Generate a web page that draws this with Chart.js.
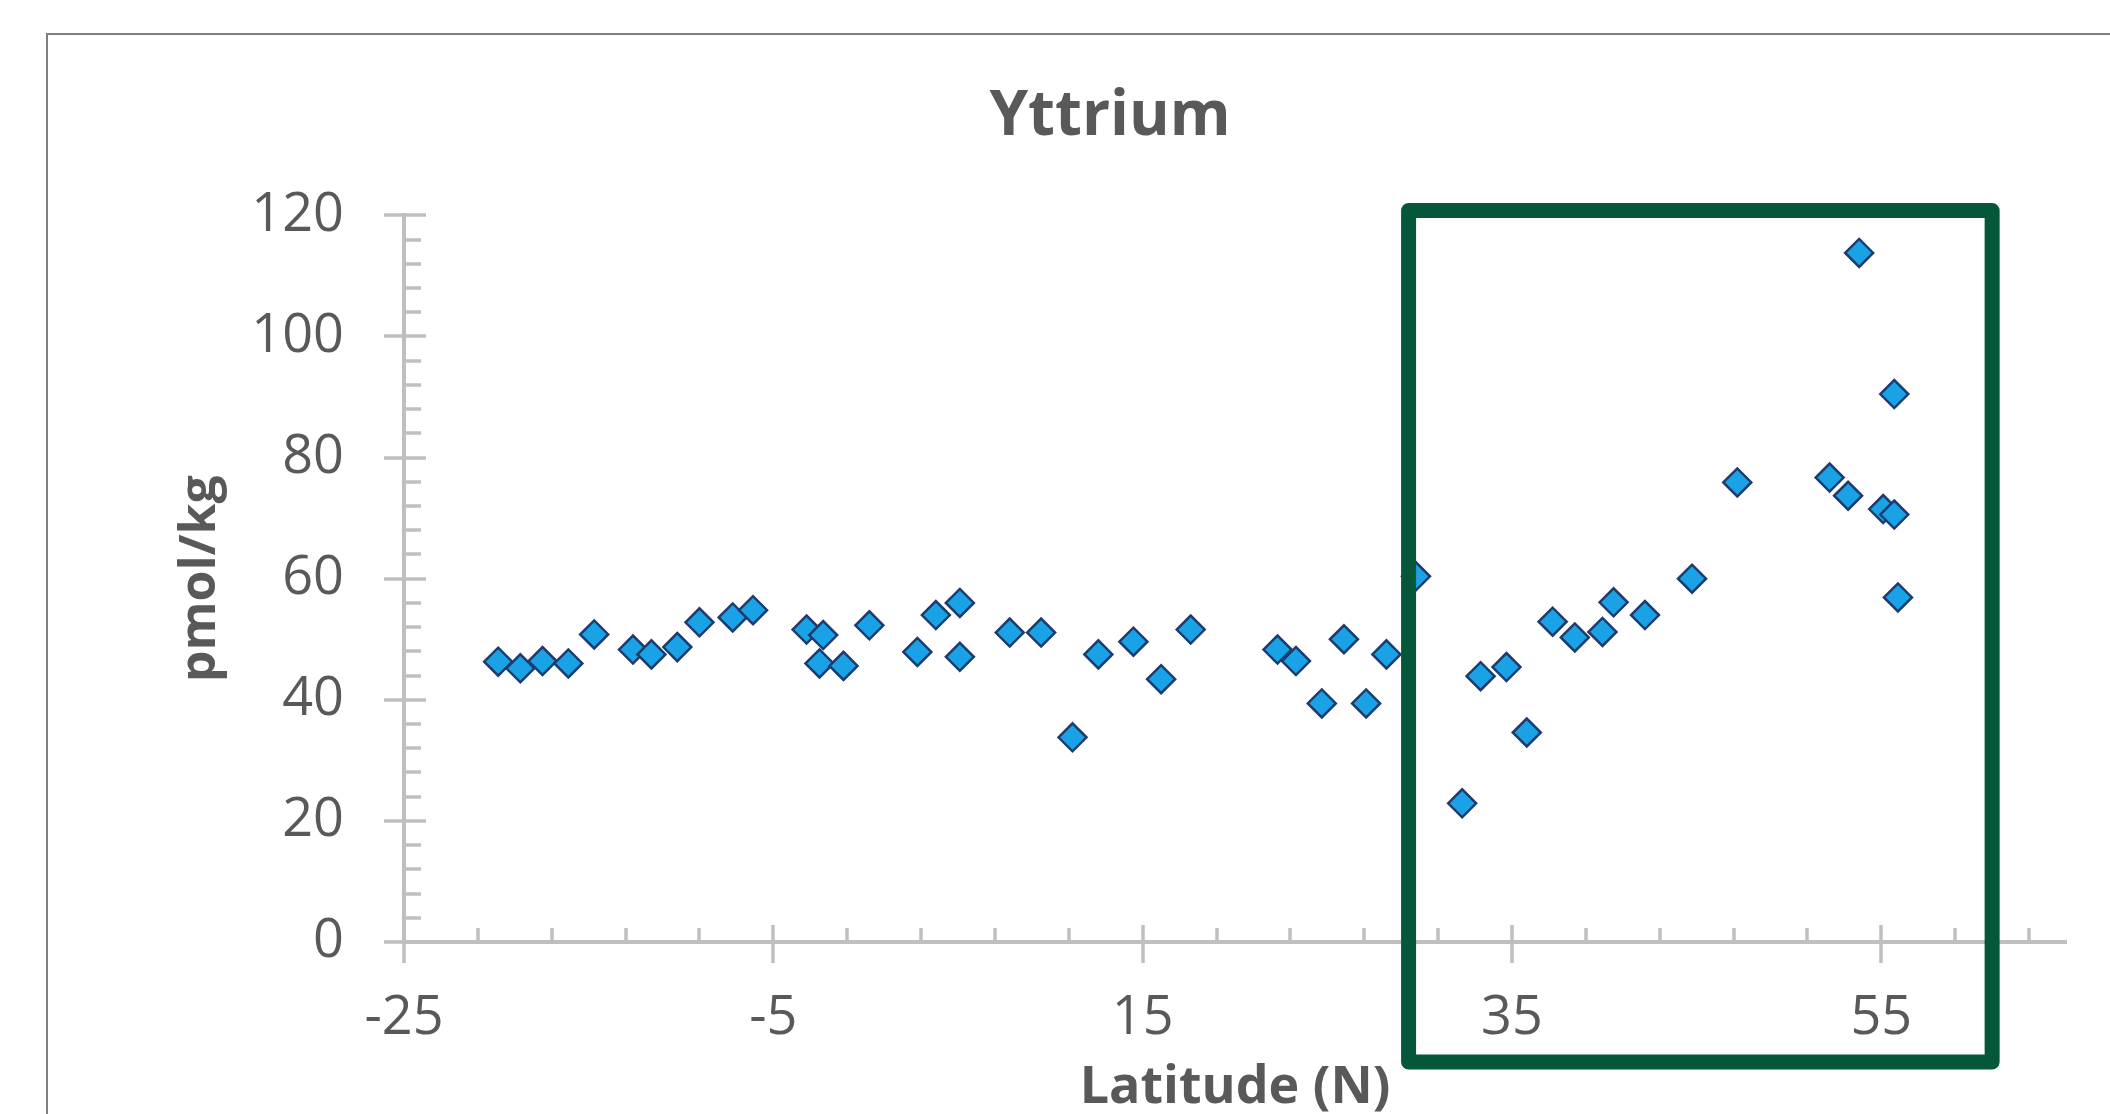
<!DOCTYPE html>
<html>
<head>
<meta charset="utf-8">
<script src="https://cdn.jsdelivr.net/npm/chart.js@4.4.1/dist/chart.umd.min.js"></script>
<style>
  html, body { margin: 0; padding: 0; background: #ffffff; overflow: hidden; }
  #wrap { position: relative; width: 2110px; height: 1114px; }
  #frame { position: absolute; left: 46px; top: 33px; width: 2200px; height: 1200px; border: 2px solid #7f7f7f; box-sizing: border-box; }
  canvas { position: absolute; left: 0; top: 0; }
</style>
</head>
<body>
<div id="wrap">
  <div id="frame"></div>
  <canvas id="c" width="2110" height="1114"></canvas>
</div>
<script>
// ---- data ----
const chartTitle = "Yttrium";
const xAxisTitle = "Latitude (N)";
const yAxisTitle = "pmol/kg";

const latitude = [
  -19.9, -18.7, -17.5, -16.1, -14.7, -12.6, -11.6, -10.2, -9.0, -7.2, -6.1,
  -3.2, -2.3, -2.5, -1.2, 0.2, 2.8, 3.8, 5.1, 5.1, 7.8, 9.5, 11.2, 12.6,
  14.5, 16.0, 17.6, 22.3, 23.3, 24.7, 25.9, 27.1, 28.2, 29.8, 32.3, 33.3,
  34.7, 35.8, 37.2, 38.4, 39.9, 40.5, 42.2, 44.75, 47.2, 52.2, 53.2, 53.8,
  55.1, 55.7, 55.7, 55.9
];
const yttrium = [
  46.3, 45.2, 46.4, 46.0, 50.8, 48.3, 47.5, 48.7, 52.8, 53.6, 54.8,
  51.6, 50.7, 46.0, 45.6, 52.3, 47.9, 54.0, 56.0, 47.1, 51.1, 51.1, 33.8, 47.5,
  49.6, 43.4, 51.6, 48.3, 46.4, 39.4, 50.0, 39.4, 47.5, 60.4, 22.9, 43.9,
  45.4, 34.6, 52.9, 50.3, 51.2, 56.1, 54.0, 60.0, 75.9, 76.7, 73.7, 113.8,
  71.5, 90.5, 70.6, 56.9
];

const xTickValues = [-25, -5, 15, 35, 55];
const yTickValues = [0, 20, 40, 60, 80, 100, 120];
const xMin = -25, xMax = 65, xMinorStep = 4;
const yMin = 0, yMax = 120, yMinorStep = 4;

// highlight box bounds in data space (latitude / pmol/kg)
const boxX = [29.4, 61.0];
const boxY = [-19.8, 120.8];

// ---- styles ----
const textGray = '#595959';
const axisGray = '#bfbfbf';
const FONT = "'Open Sans', 'Liberation Sans', sans-serif";

const axisTicksPlugin = {
  id: 'axisTicks',
  beforeDatasetsDraw(chart) {
    const ctx = chart.ctx;
    const xs = chart.scales.x, ys = chart.scales.y;
    const x0 = xs.getPixelForValue(xMin);
    const y0 = ys.getPixelForValue(yMin);
    ctx.save();
    ctx.strokeStyle = axisGray;
    ctx.lineWidth = 3.5;
    ctx.lineCap = 'butt';
    for (let v = yMin; v <= yMax + 1e-9; v += yMinorStep) {
      const py = Math.round(ys.getPixelForValue(v));
      const major = yTickValues.includes(v);
      ctx.beginPath();
      if (major) { ctx.moveTo(x0 - 20, py); ctx.lineTo(x0 + 22, py); }
      else { ctx.moveTo(x0, py); ctx.lineTo(x0 + 17, py); }
      ctx.stroke();
    }
    for (let v = xMin; v <= xMax + 1e-9; v += xMinorStep) {
      const px = Math.round(xs.getPixelForValue(v));
      const major = xTickValues.includes(v);
      ctx.beginPath();
      if (major) { ctx.moveTo(px, y0 + 21); ctx.lineTo(px, y0 - 17); }
      else { ctx.moveTo(px, y0); ctx.lineTo(px, y0 - 14); }
      ctx.stroke();
    }
    ctx.restore();
  }
};

const highlightBoxPlugin = {
  id: 'highlightBox',
  afterDraw(chart) {
    const ctx = chart.ctx;
    const xs = chart.scales.x, ys = chart.scales.y;
    const l = xs.getPixelForValue(boxX[0]), r = xs.getPixelForValue(boxX[1]);
    const t = ys.getPixelForValue(boxY[1]), b = ys.getPixelForValue(boxY[0]);
    ctx.save();
    ctx.strokeStyle = '#05573a';
    ctx.lineWidth = 15;
    ctx.lineJoin = 'round';
    ctx.strokeRect(l, t, r - l, b - t);
    ctx.restore();
  }
};

new Chart(document.getElementById('c'), {
  type: 'scatter',
  data: {
    datasets: [{
      data: latitude.map((x, i) => ({ x: x, y: yttrium[i] })),
      pointStyle: 'rectRot',
      pointRadius: 14,
      pointHoverRadius: 14,
      backgroundColor: '#19a3e6',
      borderColor: '#1d3b6e',
      borderWidth: 2.5
    }]
  },
  plugins: [axisTicksPlugin, highlightBoxPlugin],
  options: {
    responsive: false,
    devicePixelRatio: 1,
    animation: false,
    events: [],
    layout: { padding: { left: 154, right: 44, top: 34, bottom: 0 } },
    plugins: {
      legend: { display: false },
      tooltip: { enabled: false },
      title: {
        display: true,
        text: chartTitle,
        color: textGray,
        font: { family: FONT, size: 62, weight: 'bold', lineHeight: 1.2 },
        padding: { top: 46, bottom: 61 }
      }
    },
    scales: {
      x: {
        type: 'linear',
        position: 'bottom',
        min: xMin,
        max: xMax,
        afterBuildTicks: (s) => { s.ticks = xTickValues.map(v => ({ value: v })); },
        afterFit: (s) => { s.height = 172; },
        grid: { display: false, drawTicks: false },
        border: { display: true, color: axisGray, width: 4 },
        ticks: {
          color: textGray,
          padding: 44,
          maxRotation: 0,
          font: { family: FONT, size: 54 }
        },
        title: {
          display: true,
          text: xAxisTitle,
          color: textGray,
          padding: 0,
          font: { family: FONT, size: 52, weight: 'bold', lineHeight: 1 }
        }
      },
      y: {
        type: 'linear',
        position: 'left',
        min: yMin,
        max: yMax,
        afterBuildTicks: (s) => { s.ticks = yTickValues.map(v => ({ value: v })); },
        afterFit: (s) => { s.width = 250; },
        grid: { display: false, drawTicks: false },
        border: { display: true, color: axisGray, width: 4 },
        ticks: {
          color: textGray,
          padding: 60,
          font: { family: FONT, size: 54 }
        },
        title: {
          display: true,
          text: yAxisTitle,
          color: textGray,
          padding: { top: 17, bottom: 0 },
          font: { family: FONT, size: 50, weight: 'bold', lineHeight: 1.2 }
        }
      }
    }
  }
});
</script>
</body>
</html>
